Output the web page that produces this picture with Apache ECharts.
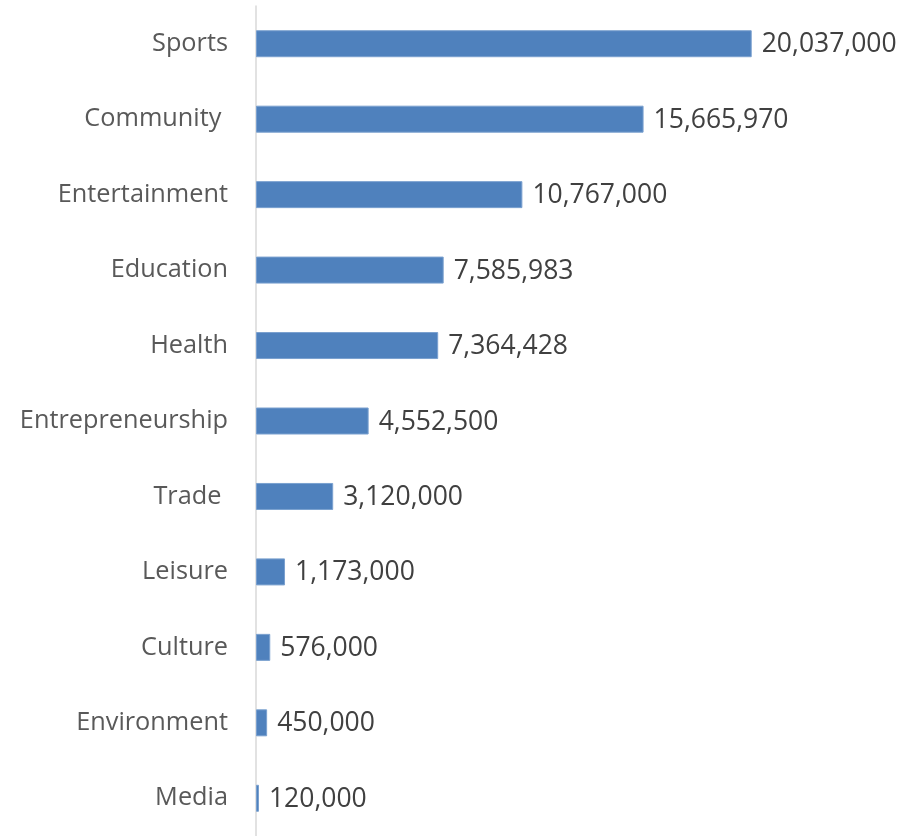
<!DOCTYPE html>
<html>
<head>
<meta charset="utf-8">
<script src="https://cdn.jsdelivr.net/npm/echarts@6/dist/echarts.min.js"></script>
<style>
  html, body { margin: 0; padding: 0; background: #ffffff; }
  #chart { width: 914px; height: 836px; }
</style>
</head>
<body>
<div id="chart"></div>
<script>
// Funding by sector (bottom-to-top order for the category axis)
const categories = ['Media', 'Environment', 'Culture', 'Leisure', 'Trade ', 'Entrepreneurship',
                    'Health', 'Education', 'Entertainment', 'Community ', 'Sports'];
const amounts = [120000, 450000, 576000, 1173000, 3120000, 4552500,
                 7364428, 7585983, 10767000, 15665970, 20037000];

const FONT = '"Open Sans", "Liberation Sans", sans-serif';
const chart = echarts.init(document.getElementById('chart'), null, { renderer: 'canvas' });

chart.setOption({
  animation: false,
  backgroundColor: '#ffffff',
  grid: { left: 256, top: 6, width: 618.5, height: 832, containLabel: false },
  xAxis: {
    type: 'value',
    min: 0,
    max: 25000000,
    show: false
  },
  yAxis: {
    type: 'category',
    data: categories,
    axisLine: { show: true, lineStyle: { color: '#d9d9d9', width: 1.5 } },
    axisTick: { show: false },
    axisLabel: {
      color: '#595959',
      fontFamily: FONT,
      fontSize: 25.3,
      margin: 28,
      padding: [6, 0, 0, 0]
    }
  },
  series: [{
    type: 'bar',
    data: amounts,
    barWidth: 27,
    itemStyle: { color: '#4f81bd', borderColor: '#7aa0cf', borderWidth: 1 },
    label: {
      show: true,
      position: 'right',
      distance: 10,
      offset: [0, 1],
      color: '#404040',
      fontFamily: FONT,
      fontSize: 26.5,
      formatter: p => p.value.toLocaleString('en-US')
    }
  }]
});
</script>
</body>
</html>
